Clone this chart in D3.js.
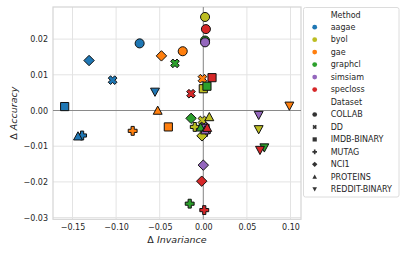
<!DOCTYPE html>
<html>
<head>
<meta charset="utf-8">
<script src="https://cdn.jsdelivr.net/npm/d3@7"></script>
<style>
  body { margin: 0; background: #fff; }
  text { font-family: "DejaVu Sans", sans-serif; fill: #262626; }
</style>
</head>
<body>
<div id="chart"></div>
<script>
// categories
const methods = ['aagae', 'byol', 'gae', 'graphcl', 'simsiam', 'specloss'];
const datasets = ['COLLAB', 'DD', 'IMDB-BINARY', 'MUTAG', 'NCI1', 'PROTEINS', 'REDDIT-BINARY'];
const methodColors = ['#1f77b4', '#bcbd22', '#ff7f0e', '#2ca02c', '#9467bd', '#d62728'];

// [delta invariance, delta accuracy] per dataset, same order as datasets
const aagae = [[-0.073, 0.0188], [-0.104, 0.0085], [-0.159, 0.0011], [-0.139, -0.0070], [-0.131, 0.0140], [-0.1437, -0.0072], [-0.0554, 0.0052]];
const byol = [[0.002, 0.0262], [-0.001, -0.0028], [0.000, 0.0061], [-0.0098, -0.0046], [-0.0015, -0.0071], [0.0069, -0.0018], [0.0635, -0.0053]];
const gae = [[-0.0236, 0.0166], [-0.0010, 0.0089], [-0.0401, -0.0046], [-0.0810, -0.0057], [-0.0480, 0.0153], [-0.0523, 0.0000], [0.0987, 0.0013]];
const graphcl = [[0.002, 0.0196], [-0.0325, 0.0132], [0.0042, 0.0068], [-0.0156, -0.0261], [-0.0140, -0.0022], [-0.0030, -0.0047], [0.0700, -0.0104]];
const simsiam = [[0.002, 0.0191], [0.0005, -0.0045], [0.002, -0.0050], [0.003, -0.0060], [0.000, -0.0153], [0.002, -0.0055], [0.0635, -0.0013]];
const specloss = [[0.003, 0.0228], [-0.0141, 0.0047], [0.0100, 0.0092], [0.0011, -0.0279], [-0.0018, -0.0198], [0.0045, -0.0048], [0.0650, -0.0111]];

const xTicks = [-0.15, -0.10, -0.05, 0.00, 0.05, 0.10];
const yTicks = [-0.03, -0.02, -0.01, 0.00, 0.01, 0.02];

const seriesByMethod = [aagae, byol, gae, graphcl, simsiam, specloss];

// flatten: dataset outer, method inner (drawing order)
let points = [];
datasets.forEach(function(ds, di){
  methods.forEach(function(m, mi){
    points.push({method: m, dataset: ds, inv: seriesByMethod[mi][di][0], acc: seriesByMethod[mi][di][1]});
  });
});

const W = 407, H = 255;
const plot = {left: 53, right: 301, top: 7, bottom: 219.3};

let svg = d3.select('#chart')
  .append('svg')
    .attr('width', W)
    .attr('height', H);

let x = d3.scaleLinear().domain([-0.17236, 0.11204]).range([plot.left, plot.right]);
let y = d3.scaleLinear().domain([-0.030476, 0.028992]).range([plot.bottom, plot.top]);

// marker shapes (roughly matplotlib o X s P D ^ v)
function poly(ctx, pts){
  ctx.moveTo(pts[0][0], pts[0][1]);
  for (let i = 1; i < pts.length; i++) ctx.lineTo(pts[i][0], pts[i][1]);
  ctx.closePath();
}
function plusPts(a, b){
  return [[-b,-a],[b,-a],[b,-b],[a,-b],[a,b],[b,b],[b,a],[-b,a],[-b,b],[-a,b],[-a,-b],[-b,-b]];
}
const shapes = {
  'COLLAB': {draw: function(ctx, size){ let a = Math.sqrt(size)/2; ctx.moveTo(a, 0); ctx.arc(0, 0, a, 0, 2*Math.PI); }},
  'DD': {draw: function(ctx, size){
    let a = Math.sqrt(size)/2 * 1.0, b = a*0.36;
    let c = Math.SQRT1_2;
    poly(ctx, plusPts(a, b).map(p => [(p[0]-p[1])*c, (p[0]+p[1])*c]));
  }},
  'IMDB-BINARY': {draw: function(ctx, size){ let a = Math.sqrt(size)/2*0.9; poly(ctx, [[-a,-a],[a,-a],[a,a],[-a,a]]); }},
  'MUTAG': {draw: function(ctx, size){ let a = Math.sqrt(size)/2*0.98; poly(ctx, plusPts(a, a*0.36)); }},
  'NCI1': {draw: function(ctx, size){ let a = Math.sqrt(size)/2*1.15; poly(ctx, [[0,-a],[a,0],[0,a],[-a,0]]); }},
  'PROTEINS': {draw: function(ctx, size){ let a = Math.sqrt(size)/2*0.98; poly(ctx, [[0,-a],[a,a*0.85],[-a,a*0.85]]); }},
  'REDDIT-BINARY': {draw: function(ctx, size){ let a = Math.sqrt(size)/2*0.98; poly(ctx, [[0,a],[a,-a*0.85],[-a,-a*0.85]]); }}
};

function color(d){
  return methodColors[methods.indexOf(d.method)];
}

// grid
svg.append('g').selectAll('line').data(xTicks).enter()
  .append('line')
    .attr('x1', d => x(d)).attr('x2', d => x(d))
    .attr('y1', plot.top).attr('y2', plot.bottom)
    .attr('stroke', '#e3e3e3')
    .attr('stroke-width', 1);
svg.append('g').selectAll('line').data(yTicks).enter()
  .append('line')
    .attr('x1', plot.left).attr('x2', plot.right)
    .attr('y1', d => y(d)).attr('y2', d => y(d))
    .attr('stroke', '#e3e3e3')
    .attr('stroke-width', 1);

// frame
svg.append('rect')
  .attr('x', plot.left).attr('y', plot.top)
  .attr('width', plot.right - plot.left).attr('height', plot.bottom - plot.top)
  .attr('fill', 'none')
  .attr('stroke', '#d4d4d4')
  .attr('stroke-width', 1.2);

// zero lines
svg.append('line')
  .attr('x1', plot.left).attr('x2', plot.right)
  .attr('y1', y(0)).attr('y2', y(0))
  .attr('stroke', '#8a8a8a').attr('stroke-width', 1);
svg.append('line')
  .attr('x1', x(0)).attr('x2', x(0))
  .attr('y1', plot.top).attr('y2', plot.bottom)
  .attr('stroke', '#8a8a8a').attr('stroke-width', 1);

// axes (no tick marks, just labels)
let fmt = d3.format('.2f');
let xAxis = svg.append('g')
  .attr('transform', 'translate(0,' + plot.bottom + ')')
  .call(d3.axisBottom(x).tickValues(xTicks).tickFormat(fmt).tickSize(0).tickPadding(5));
let yAxis = svg.append('g')
  .attr('transform', 'translate(' + plot.left + ',0)')
  .call(d3.axisLeft(y).tickValues(yTicks).tickFormat(fmt).tickSize(0).tickPadding(5));
[xAxis, yAxis].forEach(function(ax){
  ax.select('.domain').remove();
  ax.selectAll('text')
    .attr('font-family', '"DejaVu Sans", sans-serif')
    .attr('font-size', 8)
    .attr('fill', '#262626');
});

// points
svg.append('g').selectAll('path').data(points).enter()
  .append('path')
    .attr('transform', d => 'translate(' + x(d.inv) + ',' + y(d.acc) + ')')
    .attr('d', d => d3.symbol().type(shapes[d.dataset]).size(82)())
    .attr('fill', color)
    .attr('stroke', '#111')
    .attr('stroke-width', 1);

// axis labels
let xl = svg.append('text')
  .attr('x', (plot.left + plot.right)/2)
  .attr('y', 242.5)
  .attr('text-anchor', 'middle')
  .attr('font-size', 9.5);
xl.append('tspan').text('Δ ');
xl.append('tspan').attr('font-style', 'italic').text('Invariance');

let yl = svg.append('text')
  .attr('transform', 'translate(16.5,' + ((plot.top + plot.bottom)/2) + ') rotate(-90)')
  .attr('text-anchor', 'middle')
  .attr('font-size', 9.5);
yl.append('tspan').text('Δ ');
yl.append('tspan').attr('font-style', 'italic').text('Accuracy');

// legend
let legendRows = [{label: 'Method', head: true}]
  .concat(methods.map((m, i) => ({label: m, color: methodColors[i]})))
  .concat([{label: 'Dataset', head: true}])
  .concat(datasets.map(ds => ({label: ds, shape: shapes[ds]})));

let legend = svg.append('g');
legend.append('rect')
  .attr('x', 303.5).attr('y', 7.5)
  .attr('width', 95.5).attr('height', 189.5)
  .attr('rx', 2)
  .attr('fill', '#fff')
  .attr('stroke', '#dcdcdc')
  .attr('stroke-width', 1);

let rowY = d3.scaleLinear().domain([0, 14]).range([14.7, 189.3]);
let rows = legend.selectAll('g.row').data(legendRows).enter()
  .append('g')
    .attr('class', 'row')
    .attr('transform', (d, i) => 'translate(0,' + rowY(i) + ')');
rows.append('text')
  .attr('x', 330.7)
  .attr('dy', '0.35em')
  .attr('font-size', 8)
  .text(d => d.label);
rows.filter(d => d.color)
  .append('circle')
    .attr('cx', 314.7).attr('r', 2.4)
    .attr('fill', d => d.color);
rows.filter(d => d.shape)
  .append('path')
    .attr('transform', 'translate(314.7,0)')
    .attr('d', d => d3.symbol().type(d.shape).size(22)())
    .attr('fill', '#333');
</script>
</body>
</html>
